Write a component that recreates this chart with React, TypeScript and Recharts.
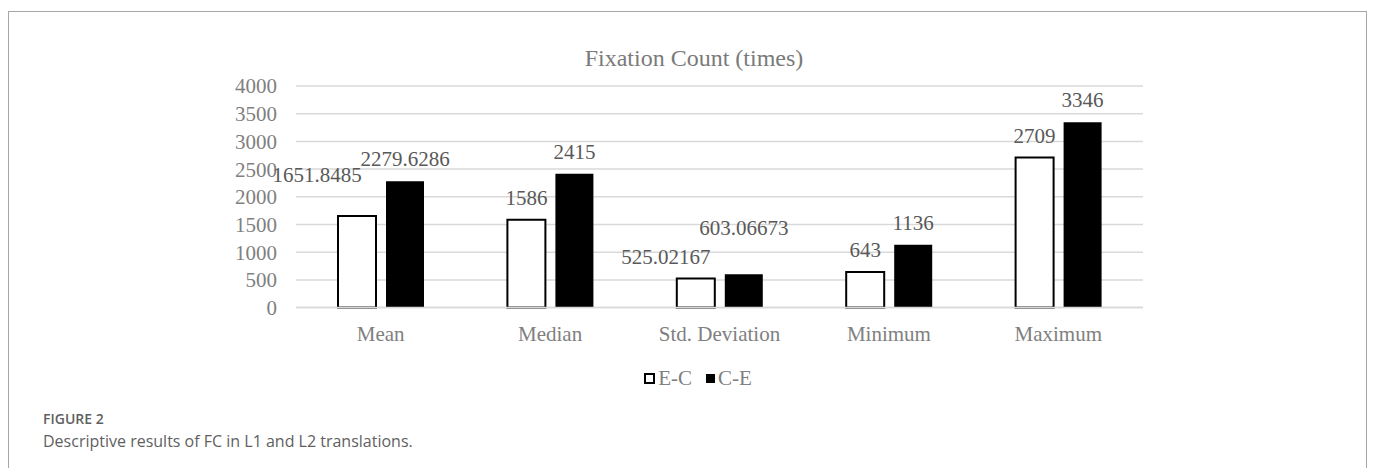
import React from 'react';
import { BarChart, Bar, XAxis, YAxis, CartesianGrid, LabelList, Legend } from 'recharts';

const categories = ['Mean', 'Median', 'Std. Deviation', 'Minimum', 'Maximum'];
const ecValues = [1651.8485, 1586, 525.02167, 643, 2709];
const ceValues = [2279.6286, 2415, 603.06673, 1136, 3346];
const yTicks = [0, 500, 1000, 1500, 2000, 2500, 3000, 3500, 4000];
const seriesNames = ['E-C', 'C-E'];

// label nudges (style only, mimic the reference's overlap avoidance)
const ecNudge = [
  { dx: -40, dy: -19 },
  { dx: 0, dy: 0 },
  { dx: -30, dy: 0 },
  { dx: 0, dy: 0 },
  { dx: 0, dy: 0 },
];
const ceNudge = [
  { dx: 0, dy: 0 },
  { dx: 0, dy: 0 },
  { dx: 0, dy: -24 },
  { dx: 0, dy: 0 },
  { dx: 0, dy: 0 },
];

const data = categories.map((c, i) => ({ name: c, ec: ecValues[i], ce: ceValues[i] }));

const SERIF = '"Liberation Serif", "Times New Roman", serif';
const AXIS_GRAY = '#808080';
const LABEL_GRAY = '#595959';

const makeLabel = (nudge: { dx: number; dy: number }[]) => (props: any) => {
  const { x, y, width, value, index } = props;
  const n = nudge[index] || { dx: 0, dy: 0 };
  return (
    <text
      x={Number(x) + Number(width) / 2 + n.dx}
      y={Number(y) - 15 + n.dy}
      textAnchor="middle"
      fontFamily={SERIF}
      fontSize={21}
      fill={LABEL_GRAY}
      style={{ fontFamily: SERIF }}
    >
      {String(value)}
    </text>
  );
};

const LegendContent = () => (
  <div
    style={{
      display: 'flex',
      justifyContent: 'center',
      alignItems: 'center',
      fontFamily: SERIF,
      fontSize: 21,
      color: AXIS_GRAY,
      lineHeight: '24px',
    }}
  >
    <span style={{ display: 'inline-flex', alignItems: 'center', marginRight: 14 }}>
      <span
        style={{
          display: 'inline-block',
          width: 7,
          height: 7,
          border: '2px solid #000',
          background: '#fff',
          marginRight: 3,
        }}
      />
      {seriesNames[0]}
    </span>
    <span style={{ display: 'inline-flex', alignItems: 'center' }}>
      <span
        style={{
          display: 'inline-block',
          width: 9,
          height: 9,
          background: '#000',
          marginRight: 3,
        }}
      />
      {seriesNames[1]}
    </span>
  </div>
);

export default function App() {
  return (
    <div style={{ position: 'relative', width: 1359, height: 460, fontFamily: SERIF }}>
      <div
        style={{
          position: 'absolute',
          left: 0,
          top: 3,
          width: 1359,
          height: 470,
          borderTop: '1px solid #a6a6a6',
          borderLeft: '1px solid #a6a6a6',
          borderRight: '1px solid #a6a6a6',
          boxSizing: 'border-box',
        }}
      />
      <div
        style={{
          position: 'absolute',
          left: 486,
          width: 400,
          top: 36,
          textAlign: 'center',
          fontFamily: SERIF,
          fontSize: 24,
          color: '#7a7a7a',
          lineHeight: '28px',
        }}
      >
        Fixation Count (times)
      </div>
      <div style={{ position: 'absolute', left: 0, top: 0 }}>
        <BarChart
          width={1200}
          height={400}
          data={data}
          margin={{ top: 78, left: 228, right: 65, bottom: 70.4 }}
          barSize={38}
          barGap={10}
          style={{ fontFamily: SERIF }}
        >
          <CartesianGrid horizontal vertical={false} stroke="#d9d9d9" strokeWidth={1.5} />
          <YAxis
            width={60}
            domain={[0, 4000]}
            ticks={yTicks}
            axisLine={false}
            tickLine={false}
            tickMargin={13}
            interval={0}
            tick={{ fontFamily: SERIF, fontSize: 21, fill: AXIS_GRAY }}
          />
          <Bar
            dataKey="ec"
            name={seriesNames[0]}
            fill="#ffffff"
            stroke="#000000"
            strokeWidth={2}
            isAnimationActive={false}
          >
            <LabelList dataKey="ec" content={makeLabel(ecNudge)} />
          </Bar>
          <Bar dataKey="ce" name={seriesNames[1]} fill="#000000" isAnimationActive={false}>
            <LabelList dataKey="ce" content={makeLabel(ceNudge)} />
          </Bar>
          <XAxis
            dataKey="name"
            height={30}
            axisLine={{ stroke: '#d9d9d9', strokeWidth: 1.5 }}
            tickLine={false}
            tickMargin={12}
            interval={0}
            tick={{ fontFamily: SERIF, fontSize: 21, fill: AXIS_GRAY }}
          />
          <Legend
            layout="vertical"
            verticalAlign="middle"
            align="center"
            content={<LegendContent />}
            wrapperStyle={{ position: 'absolute', left: 490, top: 358, width: 400 }}
          />
        </BarChart>
      </div>
      <div
        style={{
          position: 'absolute',
          left: 35,
          top: 402,
          fontFamily: '"Open Sans", sans-serif',
          fontSize: 14,
          fontWeight: 600,
          color: '#5f5f5f',
          lineHeight: '18px',
        }}
      >
        FIGURE 2
      </div>
      <div
        style={{
          position: 'absolute',
          left: 35,
          top: 422,
          fontFamily: '"Open Sans", sans-serif',
          fontSize: 16,
          color: '#5f5f5f',
          lineHeight: '22px',
        }}
      >
        Descriptive results of FC in L1 and L2 translations.
      </div>
    </div>
  );
}
